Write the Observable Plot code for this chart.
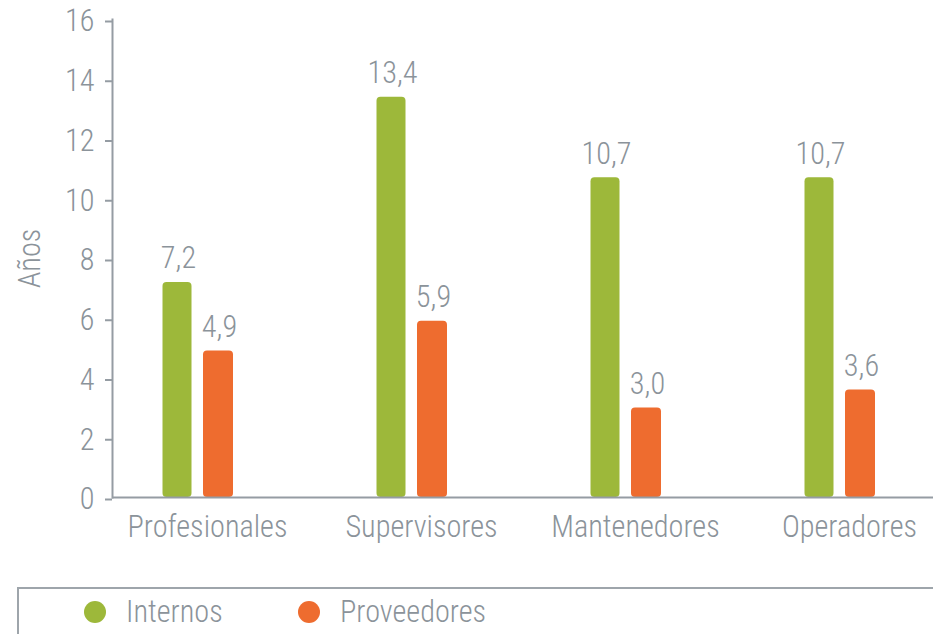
<!DOCTYPE html>
<html>
<head>
<meta charset="utf-8">
<script src="https://cdn.jsdelivr.net/npm/d3@7"></script>
<script src="https://cdn.jsdelivr.net/npm/@observablehq/plot@0.6"></script>
<style>
  html, body { margin: 0; padding: 0; background: #ffffff; }
  #chart svg { display: block; }
  #legend {
    margin-top: 17px;
    margin-left: 17px;
    border-top: 2px solid #9ea5ab;
    border-left: 2px solid #9ea5ab;
    height: 45px;
    display: flex;
    align-items: center;
    color: #8b939a;
  }
  .item { display: flex; align-items: center; }
  .dot { width: 22px; height: 22px; border-radius: 50%; margin-right: 20px; flex: none; }
  .lab { display: inline-block; transform-origin: left center; white-space: nowrap; }
</style>
</head>
<body>
<div id="chart"></div>
<div id="legend"></div>
<script>
const categories = ["Profesionales", "Supervisores", "Mantenedores", "Operadores"];
const series = ["Internos", "Proveedores"];
const internos = [7.2, 13.4, 10.7, 10.7];
const proveedores = [4.9, 5.9, 3.0, 3.6];
const colors = ["#9db83a", "#ee6c2f"];
const yTicks = [0, 2, 4, 6, 8, 10, 12, 14, 16];
const yLabel = "Años";

const textColor = "#8b939a";
const axisColor = "#959ca3";

// pick an installed narrow font if any
function pickFont() {
  const ctx = document.createElement("canvas").getContext("2d");
  const test = "Profesionales Mantenedores 0123";
  const cands = ["Liberation Sans Narrow", "Roboto Condensed", "Arial Narrow", "DejaVu Sans Condensed", "Liberation Sans", "Roboto"];
  for (const f of cands) {
    ctx.font = "40px monospace";
    const a = ctx.measureText(test).width;
    ctx.font = `40px "${f}", monospace`;
    const b = ctx.measureText(test).width;
    if (a !== b) return f;
  }
  return "sans-serif";
}
const fontName = pickFont();
const fontFamily = `"${fontName}", sans-serif`;
const fontSize = 31;
const fontWeight = 300;
const mctx = document.createElement("canvas").getContext("2d");
mctx.font = `${fontWeight} ${fontSize}px ${fontFamily}`;
// horizontal squeeze so that text widths match the narrow original face
const squeeze = Math.min(1, 160 / mctx.measureText("Profesionales").width);

const rowsInternos = categories.map((c, i) => ({category: c, series: series[0], value: internos[i]}));
const rowsProveedores = categories.map((c, i) => ({category: c, series: series[1], value: proveedores[i]}));
const fmt = d => d.value.toFixed(1).replace(".", ",");

const chart = Plot.plot({
  width: 933,
  height: 570,
  marginLeft: 112,
  marginRight: 0,
  marginTop: 19,
  marginBottom: 73,
  style: {fontFamily, fontSize: fontSize + "px", fontWeight, color: textColor, background: "#ffffff"},
  x: {domain: categories, range: [90.5, 946.5], padding: 0, axis: null},
  y: {domain: [0, 16], axis: null},
  marks: [
    Plot.barY(rowsInternos, {x: "category", y: "value", fill: colors[0], insetLeft: 71.5, insetRight: 113.5, rx: 4}),
    Plot.barY(rowsProveedores, {x: "category", y: "value", fill: colors[1], insetLeft: 112, insetRight: 72, rx: 4}),
    Plot.ruleY([0], {stroke: axisColor, strokeWidth: 2}),
    Plot.frame({anchor: "left", stroke: axisColor, strokeWidth: 2}),
    Plot.axisY({ticks: yTicks, tickSize: 7, tickPadding: 11, stroke: axisColor, strokeWidth: 2, fill: textColor, label: null, tickFormat: d => String(d), dy: 2}),
    Plot.axisX({tickSize: 0, tickPadding: 17, fill: textColor, label: null, dx: 9}),
    Plot.text([yLabel], {frameAnchor: "left", textAnchor: "middle", dx: -82, rotate: -90, fill: textColor}),
    Plot.text(rowsInternos, {x: "category", y: "value", text: fmt, dx: -20, dy: -14, lineAnchor: "bottom", fill: textColor}),
    Plot.text(rowsProveedores, {x: "category", y: "value", text: fmt, dx: 21, dy: -14, lineAnchor: "bottom", fill: textColor})
  ]
});
document.getElementById("chart").append(chart);

// condense all svg texts around their anchors
if (squeeze < 1) {
  chart.querySelectorAll("text").forEach(t => {
    const len = t.getComputedTextLength();
    if (len > 0) {
      t.setAttribute("textLength", (len * squeeze).toFixed(2));
      t.setAttribute("lengthAdjust", "spacingAndGlyphs");
    }
  });
}

const legend = document.getElementById("legend");
legend.style.fontFamily = fontFamily;
legend.style.fontSize = fontSize + "px";
legend.style.fontWeight = fontWeight;
const itemStarts = [84, 298];
series.forEach((s, i) => {
  const item = document.createElement("div");
  item.className = "item";
  item.style.position = "absolute";
  item.style.left = itemStarts[i] + "px";
  const dot = document.createElement("span");
  dot.className = "dot";
  dot.style.background = colors[i];
  const label = document.createElement("span");
  label.className = "lab";
  label.textContent = s;
  label.style.transform = `scaleX(${squeeze})`;
  item.append(dot, label);
  legend.append(item);
});
</script>
</body>
</html>
